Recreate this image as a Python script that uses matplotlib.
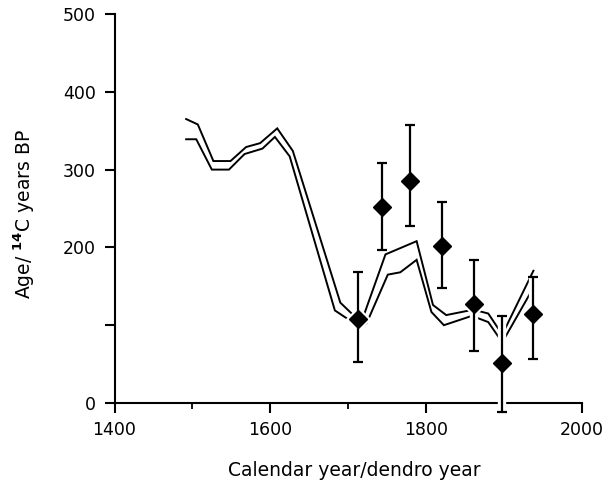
import matplotlib
matplotlib.use("Agg")
import matplotlib.pyplot as plt
import numpy as np

# Measured 14C ages (diamonds) with asymmetric errors
sample_year = [1713, 1744, 1780, 1820, 1862, 1898, 1938]
sample_age = [108, 252, 285, 202, 127, 52, 114]
err_low = [55, 55, 58, 54, 60, 64, 57]
err_high = [60, 57, 72, 56, 57, 60, 48]

# Calibration band: upper and lower curves
upper_year = [1492, 1507, 1527, 1549, 1569, 1587, 1609, 1629, 1690, 1714, 1721,
              1748, 1788, 1809, 1826, 1861, 1880, 1898, 1938]
upper_age = [365, 358, 311, 311, 329, 334, 353, 324, 129, 106, 115,
             191, 208, 126, 113, 120, 115, 88, 170]
lower_year = [1492, 1505, 1525, 1547, 1567, 1590, 1606, 1625, 1683, 1716, 1724,
              1751, 1767, 1788, 1807, 1823, 1859, 1880, 1898, 1935]
lower_age = [339, 339, 300, 300, 320, 327, 342, 317, 119, 97, 103,
             165, 168, 184, 117, 100, 112, 104, 78, 143]

xticks = [1400, 1600, 1800, 2000]
xminor = [1500, 1700, 1900]
yticks = [0, 100, 200, 300, 400, 500]
ylabels = ['0', '', '200', '300', '400', '500']

plt.rcParams['font.family'] = ['DejaVu Sans']
plt.rcParams['mathtext.fontset'] = 'dejavusans'

fig = plt.figure(figsize=(6.08, 4.86), dpi=100)
ax = fig.add_axes([114.5 / 608, 83 / 486, (581.7 - 114.5) / 608, (403 - 14) / 486])

ax.plot(upper_year, upper_age, color='black', lw=1.4, zorder=2, solid_joinstyle='miter')
ax.plot(lower_year, lower_age, color='black', lw=1.4, zorder=2, solid_joinstyle='miter')

yerr = np.array([err_low, err_high])
# white halo behind error bars and markers
ax.errorbar(sample_year, sample_age, yerr=yerr, fmt='D', color='white', ms=12,
            mec='white', elinewidth=6, capsize=0, zorder=3, clip_on=False)
ax.errorbar(sample_year, sample_age, yerr=yerr, fmt='D', color='black', ms=9,
            mec='black', elinewidth=1.6, capsize=3.5, capthick=1.6, zorder=4,
            clip_on=False)

ax.set_xlim(1400, 2000)
ax.set_ylim(0, 500)
ax.set_xticks(xticks)
ax.set_xticks(xminor, minor=True)
ax.set_yticks(yticks)
ax.set_yticklabels(ylabels)

for s in ['top', 'right']:
    ax.spines[s].set_visible(False)
for s in ['left', 'bottom']:
    ax.spines[s].set_linewidth(1.5)

ax.tick_params(axis='y', which='major', direction='out', length=7.5, width=1.5,
               labelsize=12.5, pad=6)
ax.tick_params(axis='x', which='major', direction='out', length=7, width=1.5,
               labelsize=12.5, pad=6)
ax.tick_params(axis='x', which='minor', direction='out', length=4.5, width=1.3)

ax.set_xlabel('Calendar year/dendro year', fontsize=13.5)
ax.xaxis.set_label_coords(0.513, -0.150)
ax.set_ylabel(r'Age/ $^{\mathbf{14}}$C years BP', fontsize=13.5)
ax.yaxis.set_label_coords(-0.166, 0.485)

fig.savefig('out.png', dpi=100)
